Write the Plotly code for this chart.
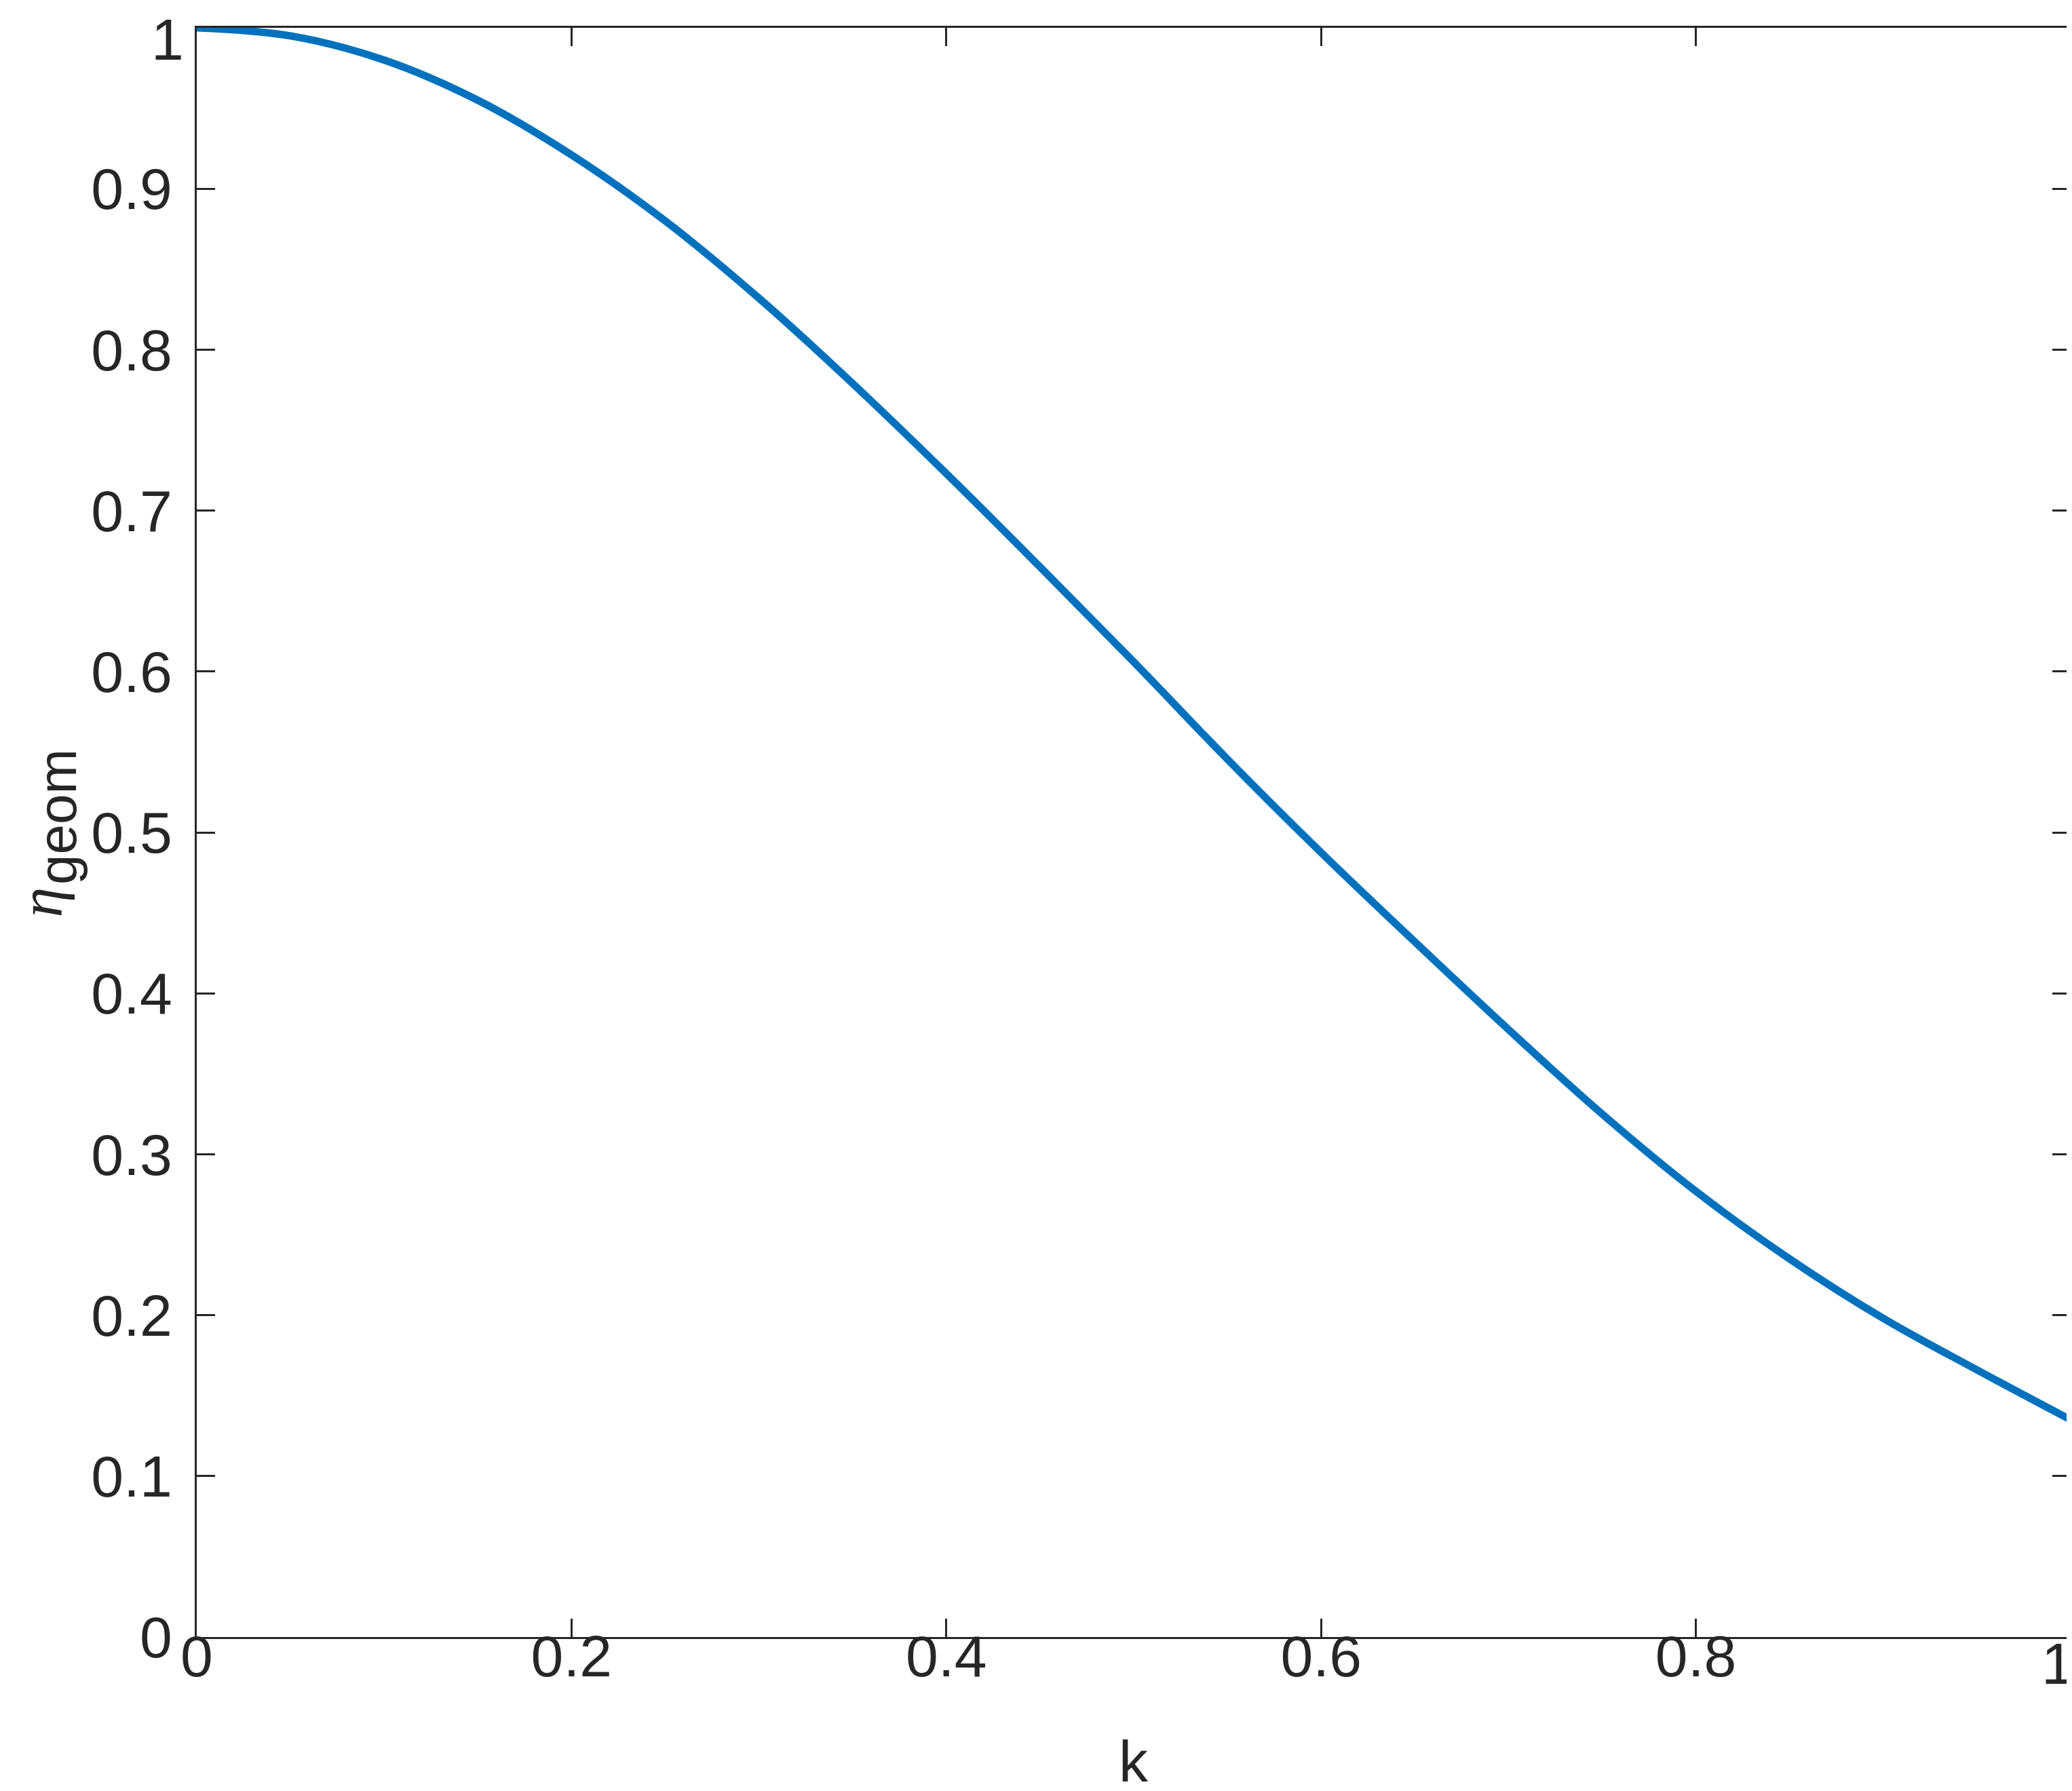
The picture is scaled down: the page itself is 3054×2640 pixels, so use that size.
import plotly.graph_objects as go

# data
k_values = [0.00, 0.05, 0.10, 0.15, 0.20, 0.25, 0.30, 0.35, 0.40, 0.45, 0.50,
            0.55, 0.60, 0.65, 0.70, 0.75, 0.80, 0.85, 0.90, 0.95, 1.00]
eta_geom = [1.000, 0.995, 0.980, 0.955, 0.921, 0.880, 0.832, 0.779, 0.723, 0.665, 0.606,
            0.5455, 0.4875, 0.432, 0.3775, 0.325, 0.277, 0.235, 0.198, 0.166, 0.135]

x_ticks = [0, 0.2, 0.4, 0.6, 0.8, 1]
x_tick_labels = ["0", "0.2", "0.4", "0.6", "0.8", "1"]
y_ticks = [0, 0.1, 0.2, 0.3, 0.4, 0.5, 0.6, 0.7, 0.8, 0.9, 1]
y_tick_labels = ["0", "0.1", "0.2", "0.3", "0.4", "0.5", "0.6", "0.7", "0.8", "0.9", "1"]

W, H = 3054, 2640
L, R, T, B = 282, 10, 33, 235
AX = "#262626"
FONT = "Liberation Sans, Arial, Helvetica, sans-serif"
XSTAND = -48

fig = go.Figure()
fig.add_trace(go.Scatter(
    x=k_values, y=eta_geom, mode="lines",
    line=dict(color="#0072BD", width=11, shape="spline", smoothing=1.0),
    cliponaxis=False, showlegend=False,
))

axis_common = dict(
    showline=True, linecolor=AX, linewidth=3, mirror="ticks",
    ticks="inside", ticklen=27, tickwidth=3, tickcolor=AX,
    showgrid=False, zeroline=False, automargin=False,
    tickfont=dict(family=FONT, size=86, color=AX),
)

# the last labels sit at the page edge: they are drawn as separate texts kept inside the page
x_shown = [t if v != x_ticks[-1] else "" for v, t in zip(x_ticks, x_tick_labels)]
y_shown = [t if v != y_ticks[-1] else "" for v, t in zip(y_ticks, y_tick_labels)]

fig.update_xaxes(range=[0, 1], tickvals=x_ticks, ticktext=x_shown,
                 ticklabelstandoff=XSTAND, **axis_common)
fig.update_yaxes(range=[0, 1], tickvals=y_ticks, ticktext=y_shown,
                 ticklabelstandoff=16, **axis_common)

pw = W - L - R
ph = H - T - B

def px_x(p):
    return (p - L) / pw

def px_y(p):
    return (H - B - p) / ph

tick_font = dict(family=FONT, size=86, color=AX)
fig.add_annotation(text=x_tick_labels[-1], xref="paper", yref="paper",
                   x=px_x(W - 4), y=px_y(2492 + XSTAND), xanchor="right", yanchor="middle",
                   showarrow=False, borderpad=0, font=tick_font)
fig.add_annotation(text=y_tick_labels[-1], xref="paper", yref="paper",
                   x=px_x(264), y=px_y(1), xanchor="right", yanchor="top",
                   showarrow=False, borderpad=0, font=tick_font)

fig.add_annotation(text="k", xref="paper", yref="paper",
                   x=0.5, y=px_y(2638), xanchor="center", yanchor="bottom",
                   showarrow=False, font=dict(family=FONT, size=86, color=AX))
fig.add_annotation(text="<i>η</i>", xref="paper", yref="paper",
                   x=px_x(1), y=px_y(1322), xanchor="left", yanchor="middle",
                   textangle=-90, showarrow=False, borderpad=0,
                   font=dict(family="Liberation Serif, serif", size=90, color=AX))
fig.add_annotation(text="geom", xref="paper", yref="paper",
                   x=px_x(76), y=px_y(1196), xanchor="center", yanchor="middle",
                   textangle=-90, showarrow=False,
                   font=dict(family=FONT, size=80, color=AX))

fig.update_layout(
    width=W, height=H,
    margin=dict(l=L, r=R, t=T, b=B, pad=0, autoexpand=False),
    plot_bgcolor="white", paper_bgcolor="white",
    font=dict(family=FONT, color=AX),
)

fig.write_html("out.html")
